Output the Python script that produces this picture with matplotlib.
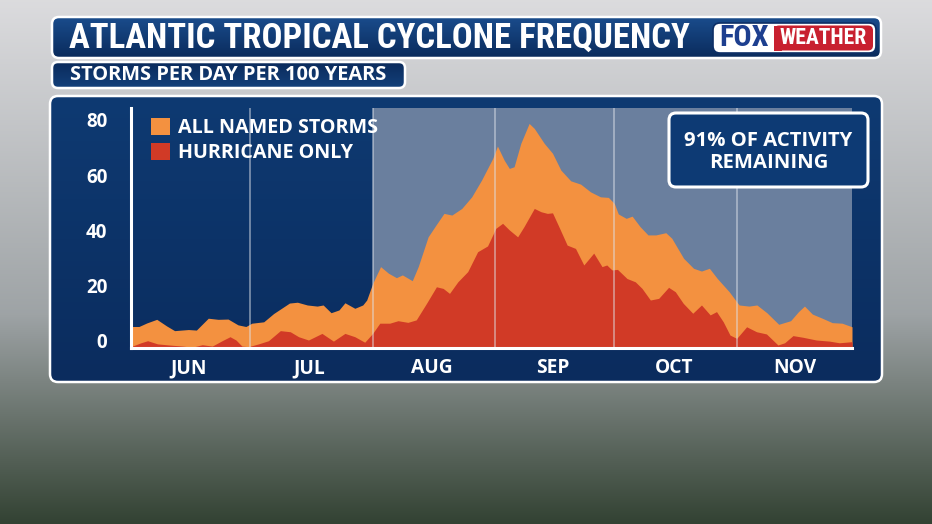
import numpy as np
import matplotlib
matplotlib.use("Agg")
import matplotlib.pyplot as plt
import matplotlib.transforms as mtransforms
from matplotlib.patches import FancyBboxPatch, Rectangle

# ---- data (day 0 = Jun 1) ----
named_days = [0, 2, 4, 6.5, 9, 11, 14.5, 16.5, 19.5, 22, 24.5, 27, 29, 30.5, 33.5,
              36, 40, 42, 44.5, 47, 48.5, 50.5, 52.5, 54, 56.5, 58.5, 59.5, 61, 63,
              65, 67, 68.5, 71, 72.5, 75, 77, 79, 81, 83.5, 86, 88.5, 91.3, 92.5,
              94.2, 95.5, 96.7, 98.4, 100.5, 101.8, 104.3, 106.4, 108.5, 111, 113.5,
              116, 118.5, 120.5, 122, 123, 125, 126.5, 128.5, 130.5, 132.5, 135,
              136.5, 139.5, 142, 144, 146, 148, 151, 153.5, 156, 158, 160.5, 163.5,
              166.5, 168.5, 170, 172, 174.5, 177, 179.5, 182]
named_vals = [7.9, 7.9, 9.2, 10.5, 8.1, 6.4, 6.8, 6.6, 10.9, 10.5, 10.6, 8.5, 7.9, 9.1, 9.6,
              12.6, 16.4, 16.7, 15.7, 15.3, 15.7, 12.9, 13.9, 16.5, 14.5, 15.7, 17.5, 23.5, 29.6,
              27.2, 25.6, 26.6, 24.5, 29.6, 40.4, 44.7, 48.9, 48.3, 50.7, 54.9, 61.0, 68.8, 73.3,
              68.2, 65.2, 65.8, 74.3, 81.5, 79.7, 74.3, 70.7, 64.6, 60.7, 59.5,
              56.7, 54.9, 54.7, 52.5, 48.7, 47.1, 47.9, 44.1, 41.1, 41.1, 41.9,
              39.9, 32.6, 29.0, 28.0, 29.0, 25.3, 20.5, 15.7, 15.3, 15.7, 12.9, 8.7,
              10.0, 13.3, 15.3, 12.4, 10.9, 9.3, 9.1, 7.8]

hurr_days = [0, 2.5, 4.2, 6.7, 9.6, 13, 15.5, 18, 20.5, 23, 25, 26.5, 28, 29.7, 32.2,
             34.7, 37.7, 40.2, 42.3, 44.8, 48.2, 51.1, 54, 56.5, 59, 61, 62.8, 65.3,
             67.4, 69.9, 72, 74.6, 77.1, 78.8, 80.4, 82.5, 85, 87.5, 90, 92.1, 93.8,
             95.5, 97.6, 99.2, 101.8, 103.5, 105.1, 106.4, 108, 110.1, 112.2, 114.3,
             116.8, 118.9, 120.1, 121.4, 122.8, 125.2, 127.3, 129, 131.1, 133.2, 135.7,
             137.4, 139.4, 141.8, 144, 146.2, 147.8, 149.5, 151.2, 152.9, 155.4, 157.9,
             160.4, 163.3, 165, 167.1, 169.6, 173, 176.3, 178.8, 182]
hurr_vals = [0.6, 2.0, 2.75, 1.6, 1.2, 0.8, 0.4, 1.3, 0.8, 2.75, 4.2, 3.0, 0.8, 0.6, 1.6,
             2.75, 6.4, 6.0, 4.2, 3.0, 5.4, 2.6, 5.4, 4.2, 2.2, 5.4, 9.1, 9.1,
             10.0, 9.4, 10.3, 16.3, 22.3, 21.7, 19.9, 24.1, 27.8, 35.0, 37.1, 43.5, 45.3,
             42.9, 40.4, 44.1, 50.7, 49.5, 48.9, 49.1, 44.1, 37.4, 36.2, 30.2,
             34.5, 29.6, 30.2, 28.4, 28.6, 25.3, 24.1, 21.7, 17.5, 18.1, 22.1,
             20.5, 16.3, 12.7, 15.7, 12.1, 13.3, 9.6, 4.8, 3.6, 7.8, 6.0,
             5.2, 1.2, 2.0, 4.6, 4.0, 3.0, 2.6, 2.0, 2.4]

month_starts = [30, 61, 92, 122, 153]
month_mids = [14.5, 45, 76, 106.5, 137, 167.5]
month_labels = ["JUN", "JUL", "AUG", "SEP", "OCT", "NOV"]
y_ticks = [0, 20, 40, 60, 80]
today = 61          # Aug 1, start of shaded "remaining" part
season_end = 182

NAVY = "#0d3468"
SHADE = "#6a7f9e"
ORANGE = "#f39140"
RED = "#d13a26"
FONT = ["Open Sans", "DejaVu Sans"]
COND = ["Liberation Sans Narrow", "Roboto Condensed", "DejaVu Sans Condensed",
        "Roboto", "DejaVu Sans"]

W, H = 932, 524
fig = plt.figure(figsize=(W / 100, H / 100), dpi=100)
renderer = fig.canvas.get_renderer()


def fit_width(txt, width_px):
    # scale font so the drawn text is width_px wide
    w = txt.get_window_extent(renderer).width
    txt.set_fontsize(txt.get_fontsize() * width_px / w)


# background "photo" stand-in: gray sky over dark foliage
bg = fig.add_axes([0, 0, 1, 1], zorder=0)
bg.set_xlim(0, W)
bg.set_ylim(H, 0)
bg.axis("off")
rows = np.linspace(0, 1, 256)[:, None]
top = np.array([0.86, 0.86, 0.87])
mid = np.array([0.62, 0.64, 0.65])
bot = np.array([0.20, 0.26, 0.20])
grad = np.where(rows < 0.6,
                top + (mid - top) * (rows / 0.6),
                mid + (bot - mid) * ((rows - 0.6) / 0.4))
grad = np.repeat(grad[:, None, :], 2, axis=1).reshape(256, 2, 3)
bg.imshow(grad, extent=[0, W, H, 0], aspect="auto", zorder=0)


def grad_box(ax, x0, y0, x1, y1, c_top, c_bot, rad, lw=1.8, z=1):
    box = FancyBboxPatch((x0, y0), x1 - x0, y1 - y0,
                         boxstyle=f"round,pad=0,rounding_size={rad}",
                         facecolor="none", edgecolor="white", lw=lw, zorder=z + 0.1)
    ax.add_patch(box)
    g = np.linspace(0, 1, 64)[:, None, None]
    ct = np.array(matplotlib.colors.to_rgb(c_top))
    cb = np.array(matplotlib.colors.to_rgb(c_bot))
    img = ct + (cb - ct) * g
    im = ax.imshow(np.repeat(img, 2, axis=1), extent=[x0, x1, y1, y0],
                   aspect="auto", zorder=z)
    im.set_clip_path(box)


# title bar, subtitle bar, panel
grad_box(bg, 52, 62, 405, 88, "#0b2b5c", "#13407a", 6, z=1)
grad_box(bg, 52, 17, 881, 58, "#1a4c8c", "#0a2b5c", 7, z=2)
grad_box(bg, 50, 96, 882, 382, "#0e3a72", "#0b2c5e", 8, z=1)

title = bg.text(69, 38, "ATLANTIC TROPICAL CYCLONE FREQUENCY", color="white",
                fontsize=20, fontweight="bold", family=COND, va="center", ha="left",
                zorder=5)
fit_width(title, 622)
sub = bg.text(70, 75.5, "STORMS PER DAY PER 100 YEARS", color="white",
              fontsize=12, fontweight="bold", family=FONT, va="center", ha="left",
              zorder=5)
fit_width(sub, 315)

# FOX WEATHER logo
logo = FancyBboxPatch((713, 23), 163, 30, boxstyle="round,pad=0,rounding_size=7",
                      facecolor="white", edgecolor="#0d2f66", lw=1.2, zorder=5)
bg.add_patch(logo)
bg.add_patch(FancyBboxPatch((774, 25.5), 99, 25, boxstyle="round,pad=0,rounding_size=5",
                            facecolor="#c8202f", edgecolor="none", zorder=6))
bg.add_patch(Rectangle((774, 25.5), 8, 25, facecolor="#c8202f", edgecolor="none", zorder=6))
fox = bg.text(744.5, 38.5, "FOX", color="#1d3f8f", fontsize=15, fontweight="bold",
              family=COND, ha="center", va="center", zorder=7)
fit_width(fox, 50)
wx = bg.text(823.5, 38.5, "WEATHER", color="white", fontsize=14, fontweight="bold",
             family=COND, ha="center", va="center", zorder=7)
fit_width(wx, 88)

# chart axes (pixel box: x 131..852, y 108..348)
ax = fig.add_axes([131 / W, (H - 348.3) / H, (852 - 131) / W, (348.3 - 108) / H], zorder=1)
ax.set_facecolor("none")
ax.set_xlim(0, season_end)
ax.set_ylim(0, 87.1)
ax.axvspan(today, season_end, color=SHADE, lw=0, zorder=0)
ax.fill_between(named_days, named_vals, 0, color=ORANGE, lw=0, zorder=1,
                label="ALL NAMED STORMS")
ax.fill_between(hurr_days, hurr_vals, 0, color=RED, lw=0, zorder=1.2,
                label="HURRICANE ONLY")

ax.set_xticks(month_mids, month_labels)
ax.set_xticks(month_starts, minor=True)
ax.set_yticks(y_ticks)
ax.grid(which="minor", axis="x", color="#dfe3ea", alpha=0.6, lw=1.1)
ax.set_axisbelow(False)
ax.tick_params(which="both", length=0)
ax.tick_params(axis="x", pad=7)
ax.tick_params(axis="y", pad=17)
for lab in ax.get_xticklabels():
    lab.set_fontsize(13.8)
for lab in ax.get_yticklabels():
    lab.set_fontsize(13.5)
for lab in ax.get_xticklabels() + ax.get_yticklabels():
    lab.set_color("white")
    lab.set_fontweight("bold")
    lab.set_family(FONT)
offset = mtransforms.ScaledTranslation(0, 0.076, fig.dpi_scale_trans)
for lab in ax.get_yticklabels():
    lab.set_transform(lab.get_transform() + offset)

for s in ["top", "right"]:
    ax.spines[s].set_visible(False)
for s in ["left", "bottom"]:
    ax.spines[s].set_color("white")
    ax.spines[s].set_linewidth(2.2)
    ax.spines[s].set_zorder(3)

leg = ax.legend(loc="upper left", bbox_to_anchor=(151 / W, (H - 118) / H),
                bbox_transform=fig.transFigure, frameon=False,
                handlelength=0.95, handleheight=0.95, handletextpad=0.4,
                labelspacing=0.24, borderpad=0, borderaxespad=0,
                prop={"family": FONT, "weight": "bold", "size": 14.2})
for t in leg.get_texts():
    t.set_color("white")

# annotation box
ov = fig.add_axes([0, 0, 1, 1], zorder=2)
ov.set_xlim(0, W)
ov.set_ylim(H, 0)
ov.axis("off")
ov.add_patch(FancyBboxPatch((669, 113), 199, 74, boxstyle="round,pad=0,rounding_size=7",
                            facecolor="#0d3a74", edgecolor="white", lw=2.2, zorder=1))
ov.text(768.5, 152, "91% OF ACTIVITY\nREMAINING", color="white", fontsize=14.6,
        fontweight="bold", family=FONT, ha="center", va="center", linespacing=1.14,
        zorder=2)

fig.savefig("out.png", dpi=100)
